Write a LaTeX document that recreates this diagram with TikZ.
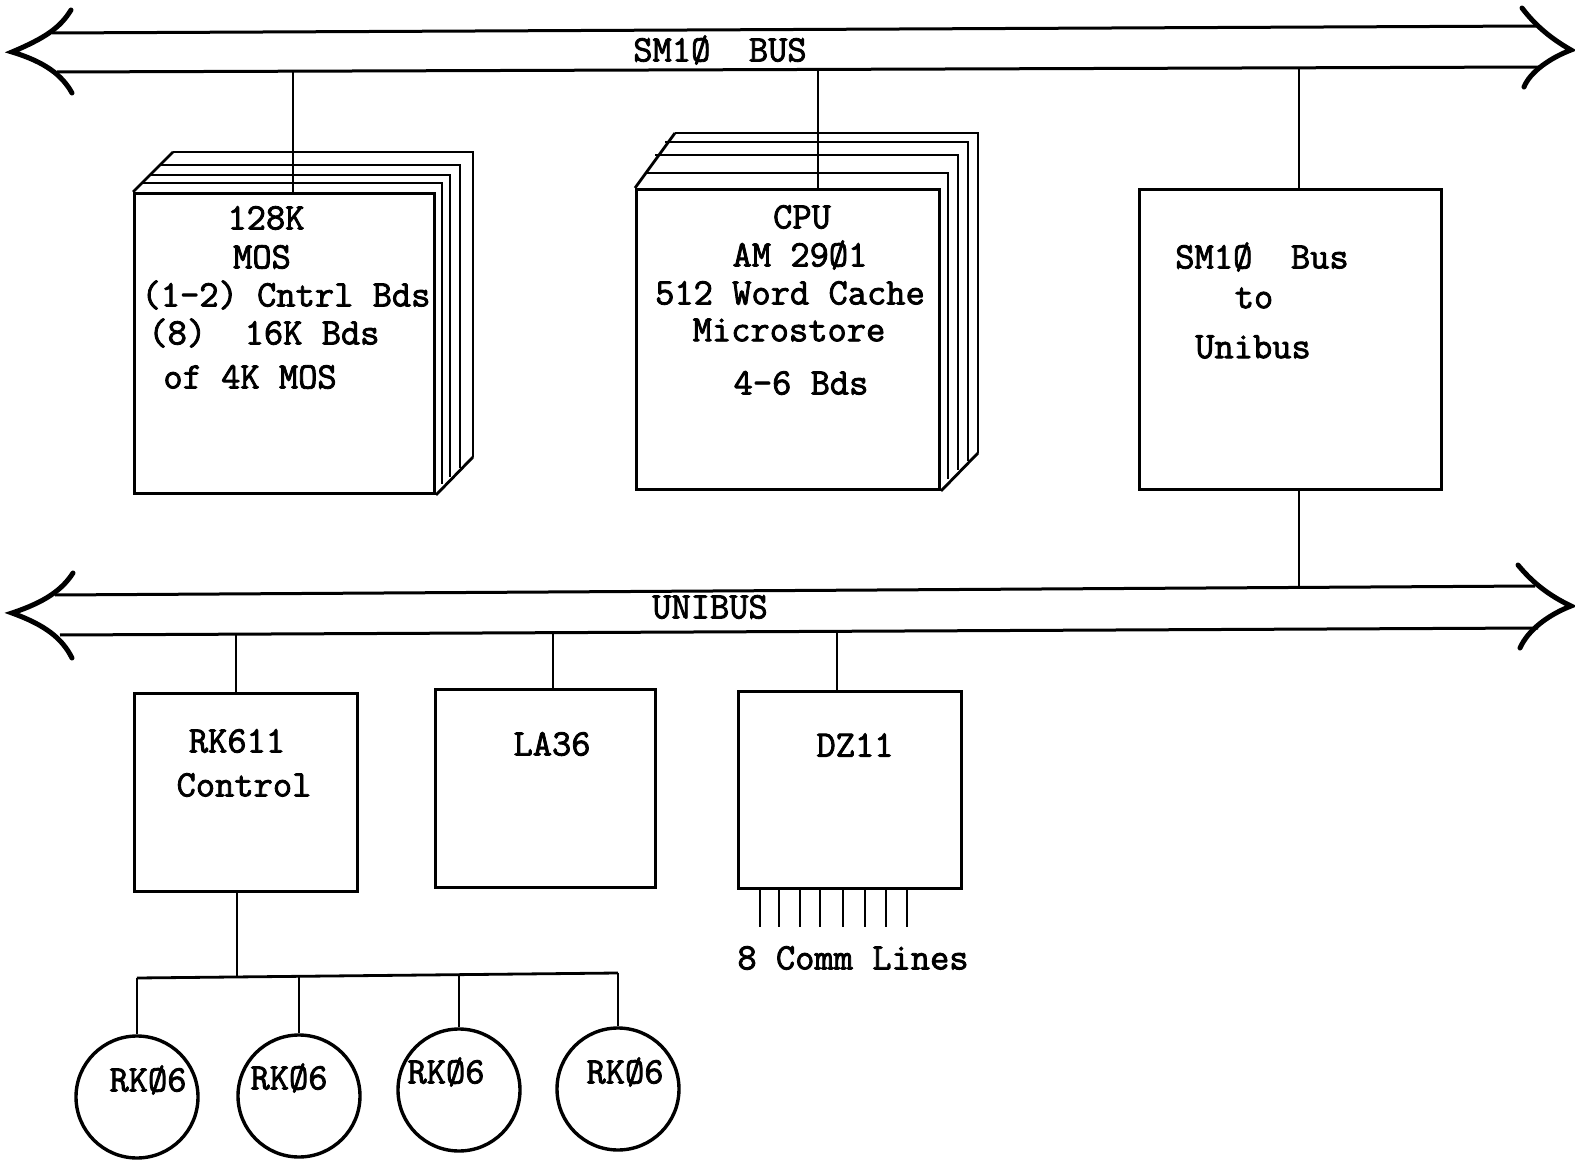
\documentclass[tikz,border=0pt]{standalone}
\usepackage{fontspec}
\newfontfamily\tw{Latin Modern Mono}[FakeBold=2.2]
\begin{document}
\begin{tikzpicture}[x=0.5pt,y=-0.5pt]
\tikzset{
  ln/.style={line width=1.4pt},
  busline/.style={line width=1.5pt},
  barb/.style={line width=2.5pt, line cap=round},
  box/.style={draw, line width=1.5pt, inner sep=0pt, anchor=north west},
  txt/.style={font=\tw\fontsize{18.7}{20}\selectfont, inner sep=0pt},
  disk/.style={draw, circle, line width=1.7pt, inner sep=0pt, minimum size=61pt},
}
\useasboundingbox (0,0) rectangle (1575,1160);

% ---------------- SM10 bus ----------------
\coordinate (smTL) at (52,33);  \coordinate (smTR) at (1537,26);
\coordinate (smBL) at (57,72);  \coordinate (smBR) at (1540,67);
\coordinate (smLt) at (12,52);  \coordinate (smRt) at (1571,50);
\draw[busline] (smTL) -- (smTR);
\draw[busline] (smBL) -- (smBR);
\draw[barb] (71,10) .. controls (60,28) and (45,38) .. (smLt)
                    .. controls (45,62) and (62,75) .. (72,93);
\draw[barb] (1522,8) .. controls (1535,25) and (1550,38) .. (smRt)
                     .. controls (1550,58) and (1530,72) .. (1524,87);
\node[txt] (smlabel) at (720,50) {SM1Ø\ \ BUS};

% ---------------- UNIBUS ----------------
\coordinate (uTL) at (55,595);  \coordinate (uTR) at (1535,586);
\coordinate (uBL) at (60,635);  \coordinate (uBR) at (1538,628);
\coordinate (uLt) at (12,613);  \coordinate (uRt) at (1571,606);
\draw[busline] (uTL) -- (uTR);
\draw[busline] (uBL) -- (uBR);
\draw[barb] (73,573) .. controls (62,590) and (45,602) .. (uLt)
                     .. controls (45,625) and (62,638) .. (72,658);
\draw[barb] (1518,565) .. controls (1532,582) and (1548,595) .. (uRt)
                       .. controls (1548,615) and (1528,630) .. (1520,648);
\node[txt] (ulabel) at (710,607) {UNIBUS};

% ---------------- Memory stack ----------------
\foreach \dx/\dt/\db in {9/9/8, 17/17/15, 27/27/24, 40/40/35}
  \draw[ln] (133+\dx,192-\dt) -- (433+\dx,192-\dt) -- (433+\dx,492-\db);
\node[box, minimum width=150pt, minimum height=150pt] (mem) at (133,192) {};
\draw[ln] (mem.north west) -- (173,152);
\draw[ln] (mem.south east) -- (473,457);
\node[txt] (m1) at (266,218) {128K};
\node[txt] (m2) at (262,257) {MOS};
\node[txt] (m3) at (286,295) {(1-2) Cntrl Bds};
\node[txt, anchor=west] (m4) at (148,333) {(8)\ \ 16K Bds};
\node[txt, anchor=west] (m5) at (163,377) {of 4K MOS};

% ---------------- CPU stack ----------------
\foreach \dx/\dt/\db in {10/15/9, 20/33/18, 30/46/27, 40/55/35}
  \draw[ln] (635+\dx,188-\dt) -- (938+\dx,188-\dt) -- (938+\dx,488-\db);
\node[box, minimum width=151.5pt, minimum height=150pt] (cpu) at (635,188) {};
\draw[ln] (cpu.north west) -- (675,133);
\draw[ln] (cpu.south east) -- (978,453);
\node[txt] (c1) at (802,217) {CPU};
\node[txt] (c2) at (800,255) {AM 29Ø1};
\node[txt] (c3) at (790,293) {512 Word Cache};
\node[txt] (c4) at (789,330) {Microstore};
\node[txt] (c5) at (801,383) {4-6 Bds};

% ---------------- Bus bridge ----------------
\node[box, minimum width=151pt, minimum height=150pt] (br) at (1138,188) {};
\node[txt] (b1) at (1262,257) {SM1Ø\ \ Bus};
\node[txt] (b2) at (1254,298) {to};
\node[txt] (b3) at (1253,347) {Unibus};

% taps on SM10 bus
\coordinate (tm) at (293,71);
\coordinate (tc) at (818,69);
\coordinate (tb) at (1299,68);
\draw[ln] (tm) -- (tm |- mem.north);
\draw[ln] (tc) -- (tc |- cpu.north);
\draw[ln] (tb) -- (tb |- br.north);
\coordinate (tbu) at (1299,587);
\draw[ln] (br.south -| tbu) -- (tbu);

% ---------------- Unibus devices ----------------
\node[box, minimum width=111.5pt, minimum height=99pt] (rk) at (133,692) {};
\node[box, minimum width=110pt, minimum height=99pt] (la) at (434,688) {};
\node[box, minimum width=111.5pt, minimum height=98.5pt] (dz) at (737,690) {};
\node[txt] (r1) at (237,741) {RK611};
\node[txt] (r2) at (244,785) {Control};
\node[txt] (l1) at (552,744) {LA36};
\node[txt] (z1) at (855,745) {DZ11};

\coordinate (u1) at (236,634);
\coordinate (u2) at (553,632);
\coordinate (u3) at (837,631);
\draw[ln] (u1) -- (u1 |- rk.north);
\draw[ln] (u2) -- (u2 |- la.north);
\draw[ln] (u3) -- (u3 |- dz.north);

% comm lines
\foreach \x in {760,779,800,820,843,865,886,907}
  \draw[ln] (dz.south -| \x,0) -- (\x,927);
\node[txt] (cl) at (853,958) {8 Comm Lines};

% ---------------- Disk drives ----------------
\coordinate (rkd) at (237,976);
\coordinate (h1) at (137,978);
\coordinate (h2) at (299,977);
\coordinate (h3) at (459,975);
\coordinate (h4) at (618,973);
\draw[ln] (rk.south -| rkd) -- (rkd);
\draw[ln] (h1) -- (h4);
\node[disk] (d1) at (137,1097) {};
\node[disk] (d2) at (299,1096) {};
\node[disk] (d3) at (459,1090) {};
\node[disk] (d4) at (618,1089) {};
\draw[ln] (h1) -- (d1.north);
\draw[ln] (h2) -- (d2.north);
\draw[ln] (h3) -- (d3.north);
\draw[ln] (h4) -- (d4.north);
\node[txt] (k1) at (148,1080) {RKØ6};
\node[txt] (k2) at (289,1078) {RKØ6};
\node[txt] (k3) at (446,1072) {RKØ6};
\node[txt] (k4) at (625,1072) {RKØ6};
\end{tikzpicture}
\end{document}
